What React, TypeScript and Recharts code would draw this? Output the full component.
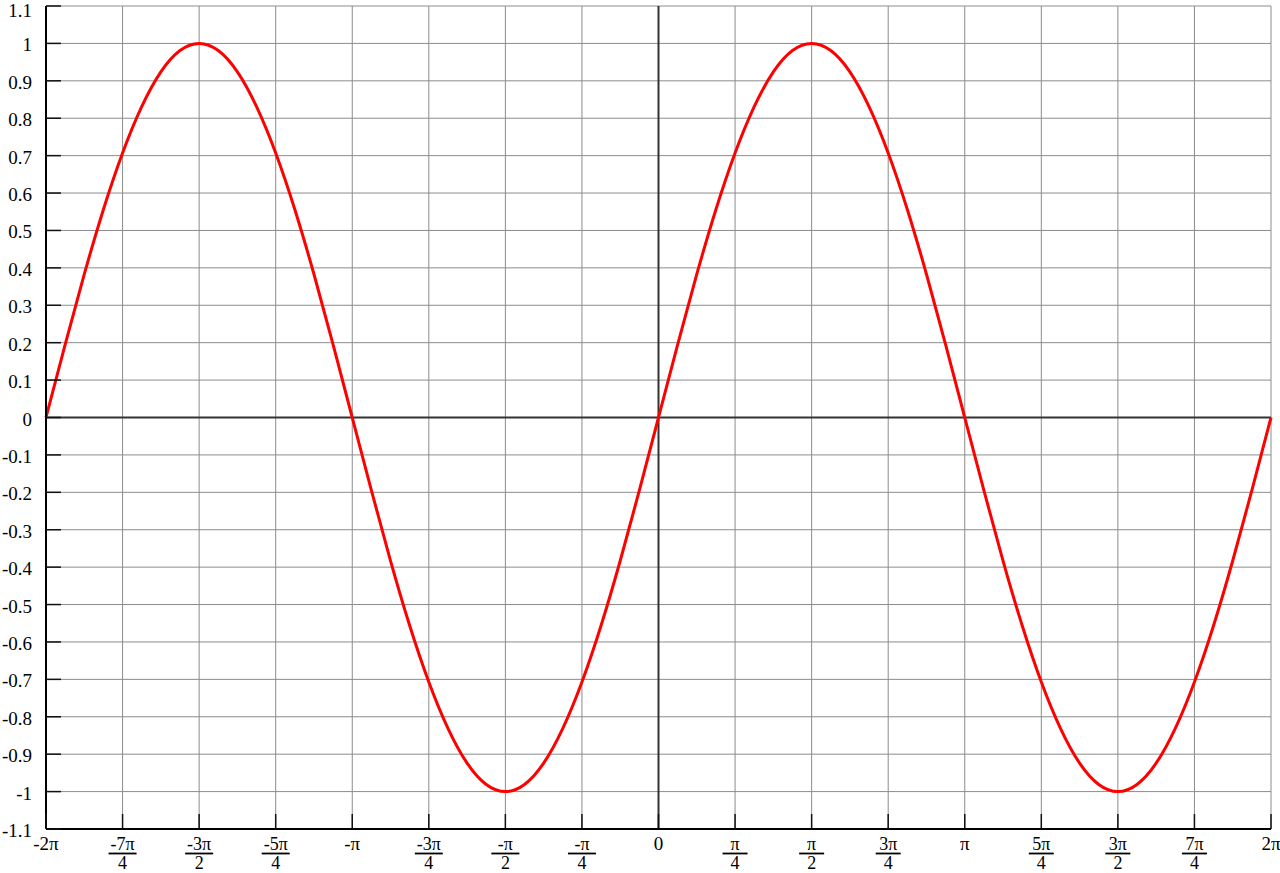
import { LineChart, Line, XAxis, YAxis, CartesianGrid, ReferenceLine } from 'recharts'

// x in units of π/4, samples every π/16 from -2π to 2π
const sineValues = [
  0, 0.195, 0.383, 0.556, 0.707, 0.831, 0.924, 0.981, 1, 0.981, 0.924, 0.831, 0.707, 0.556, 0.383, 0.195,
  0, -0.195, -0.383, -0.556, -0.707, -0.831, -0.924, -0.981, -1, -0.981, -0.924, -0.831, -0.707, -0.556, -0.383, -0.195,
  0, 0.195, 0.383, 0.556, 0.707, 0.831, 0.924, 0.981, 1, 0.981, 0.924, 0.831, 0.707, 0.556, 0.383, 0.195,
  0, -0.195, -0.383, -0.556, -0.707, -0.831, -0.924, -0.981, -1, -0.981, -0.924, -0.831, -0.707, -0.556, -0.383, -0.195,
  0,
]

const xTicks = [-8, -7, -6, -5, -4, -3, -2, -1, 0, 1, 2, 3, 4, 5, 6, 7, 8]
const xTickLabels = ['-2π', '-7π/4', '-3π/2', '-5π/4', '-π', '-3π/4', '-π/2', '-π/4', '0', 'π/4', 'π/2', '3π/4', 'π', '5π/4', '3π/2', '7π/4', '2π']
const yTicks = [-1.1, -1, -0.9, -0.8, -0.7, -0.6, -0.5, -0.4, -0.3, -0.2, -0.1, 0, 0.1, 0.2, 0.3, 0.4, 0.5, 0.6, 0.7, 0.8, 0.9, 1, 1.1]

const data = sineValues.map((v, i) => ({ x: -8 + i / 4, y: v }))

const FONT = '"Liberation Serif", "DejaVu Serif", serif'
const TICK = 15

const BottomTick = (p: any) => {
  const { x, y, payload } = p
  const label = xTickLabels[xTicks.indexOf(payload.value)] ?? ''
  const parts = label.split('/')
  const half = parts[0].startsWith('-') ? 14 : 12.5
  return (
    <g>
      <line x1={x} x2={x} y1={y} y2={y - TICK} stroke="#111" strokeWidth={1.5} />
      {parts.length === 1 ? (
        <text x={x} y={y + 21} textAnchor="middle" fontFamily={FONT} fontSize={19} fill="#000">{label}</text>
      ) : (
        <g>
          <text x={x} y={y + 21} textAnchor="middle" fontFamily={FONT} fontSize={18} fill="#000">{parts[0]}</text>
          <line x1={x - half} x2={x + half} y1={y + 24.5} y2={y + 24.5} stroke="#000" strokeWidth={1.8} />
          <text x={x} y={y + 40} textAnchor="middle" fontFamily={FONT} fontSize={18} fill="#000">{parts[1]}</text>
        </g>
      )}
    </g>
  )
}

const TopTick = (p: any) => {
  const { x, y } = p
  return <line x1={x} x2={x} y1={y} y2={y + TICK} stroke="#111" strokeWidth={1.5} />
}

const LeftTick = (p: any) => {
  const { x, y, payload } = p
  return (
    <g>
      <line x1={x} x2={x + TICK} y1={y} y2={y} stroke="#111" strokeWidth={1.5} />
      <text x={x - 14} y={Math.max(y + 8, 17)} textAnchor="end" fontFamily={FONT} fontSize={19} fill="#000">{String(payload.value)}</text>
    </g>
  )
}

const RightTick = (p: any) => {
  const { x, y } = p
  return <line x1={x} x2={x - TICK} y1={y} y2={y} stroke="#111" strokeWidth={1.5} />
}

export default function App() {
  return (
    <div style={{ position: 'absolute', left: 0, top: 0, width: 1280, height: 873, background: '#fff' }}>
      <LineChart width={1280} height={873} data={data} margin={{ top: 6, right: 9, bottom: 0, left: 0 }}>
        <CartesianGrid stroke="#8c8c8c" strokeWidth={1} />
        <XAxis dataKey="x" type="number" domain={[-8, 8]} ticks={xTicks} interval={0} height={44}
          tickSize={0} tickMargin={0} tickLine={false} axisLine={{ stroke: '#000', strokeWidth: 2 }}
          tick={(p: any) => <BottomTick {...p} />} />
        <XAxis xAxisId="top" orientation="top" dataKey="x" type="number" domain={[-8, 8]} ticks={xTicks} interval={0} height={0}
          tickSize={0} tickMargin={0} tickLine={false} axisLine={{ stroke: '#000', strokeWidth: 2 }}
          tick={(p: any) => <TopTick {...p} />} />
        <YAxis type="number" domain={[-1.1, 1.1]} ticks={yTicks} interval={0} width={46}
          tickSize={0} tickMargin={0} tickLine={false} axisLine={{ stroke: '#000', strokeWidth: 2 }}
          tick={(p: any) => <LeftTick {...p} />} />
        <YAxis yAxisId="right" orientation="right" type="number" domain={[-1.1, 1.1]} ticks={yTicks} interval={0} width={0}
          tickSize={0} tickMargin={0} tickLine={false} axisLine={{ stroke: '#000', strokeWidth: 2 }}
          tick={(p: any) => <RightTick {...p} />} />
        <ReferenceLine x={0} stroke="#333" strokeWidth={2} />
        <ReferenceLine y={0} stroke="#333" strokeWidth={2} />
        <Line dataKey="y" type="natural" stroke="#ff0000" strokeWidth={3} dot={false} isAnimationActive={false} />
      </LineChart>
    </div>
  )
}
